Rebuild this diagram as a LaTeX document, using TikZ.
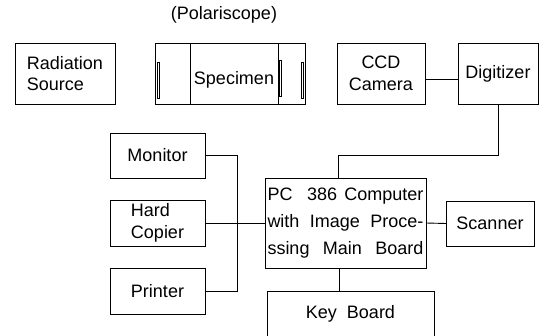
\documentclass[tikz,border=0pt]{standalone}
\usepackage{fontspec}
\setmainfont{Liberation Sans}
\begin{document}
\begin{tikzpicture}[x=1pt,y=-1pt,
  every node/.style={font=\fontsize{18}{21.5}\selectfont},
  box/.style={draw, line width=0.9pt, inner sep=0pt, outer sep=0pt, align=center},
  wire/.style={line width=0.9pt}]
\useasboundingbox (0,0) rectangle (547,336);
% top row
\node[box, minimum width=100pt, minimum height=61pt, align=left] (rad) at (65,73.5) {Radiation\\Source};
\node[box, minimum width=150pt, minimum height=61pt] (pol) at (230,73.5) {};
\node (spec) at (234,80) {Specimen};
\node (polt) at (224,15) {(Polariscope)};
\node[box, minimum width=88pt, minimum height=61pt] (ccd) at (381,73.5) {CCD\\Camera};
\node[box, minimum width=80pt, minimum height=61pt] (dig) at (498,73.5) {Digitizer};
% specimen details
\draw[wire] (190,43) -- (190,104);
\draw[wire] (278,43) -- (278,104);
\draw[line width=0.6pt] (157,62) rectangle (159.5,98);
\draw[line width=0.6pt] (301,62) rectangle (303.5,98);
\draw[line width=0.6pt] (279,60) rectangle (281,96);
% left column
\node[box, minimum width=95pt, minimum height=45pt] (mon) at (157.5,155.5) {Monitor};
\node[box, minimum width=95pt, minimum height=46pt, align=left] (hc) at (157.5,223) {Hard\\Copier};
\node[box, minimum width=95pt, minimum height=46pt] (pri) at (157.5,291) {Printer};
% computer
\node[box, minimum width=161pt, minimum height=90pt, font=\fontsize{18}{27}\selectfont, align=left] (comp) at (345.5,223)
  {\makebox[156pt][s]{PC\ \ 386 Computer}\\\makebox[156pt][s]{with Image Proce-}\\\makebox[156pt][s]{ssing Main Board}};
\node[box, minimum width=88pt, minimum height=45pt] (scan) at (490,223.5) {Scanner};
\node[minimum width=167pt, minimum height=45pt, inner sep=0pt, outer sep=0pt] (kb) at (350.5,313.5) {Key\ \ Board};
\draw[wire] (kb.south west) -- (kb.north west) -- (kb.north east) -- (kb.south east);
% connectors
\draw[wire] ([yshift=-5.5pt]ccd.east) -- ([yshift=-5.5pt]dig.west);
\coordinate (mid) at (338,155);
\draw[wire] (dig.south) |- (mid) -- ([xshift=-7.5pt]comp.north);
\coordinate (bus) at (237,0);
\draw[wire] (mon.east) -| (bus |- pri.east) -- (pri.east);
\draw[wire] (hc.east) -- (comp.west);
\draw[wire] (comp.east) -- (scan.west);
\draw[wire] ([xshift=-6.5pt]comp.south) -- ([xshift=-11.5pt]kb.north);
\end{tikzpicture}
\end{document}
